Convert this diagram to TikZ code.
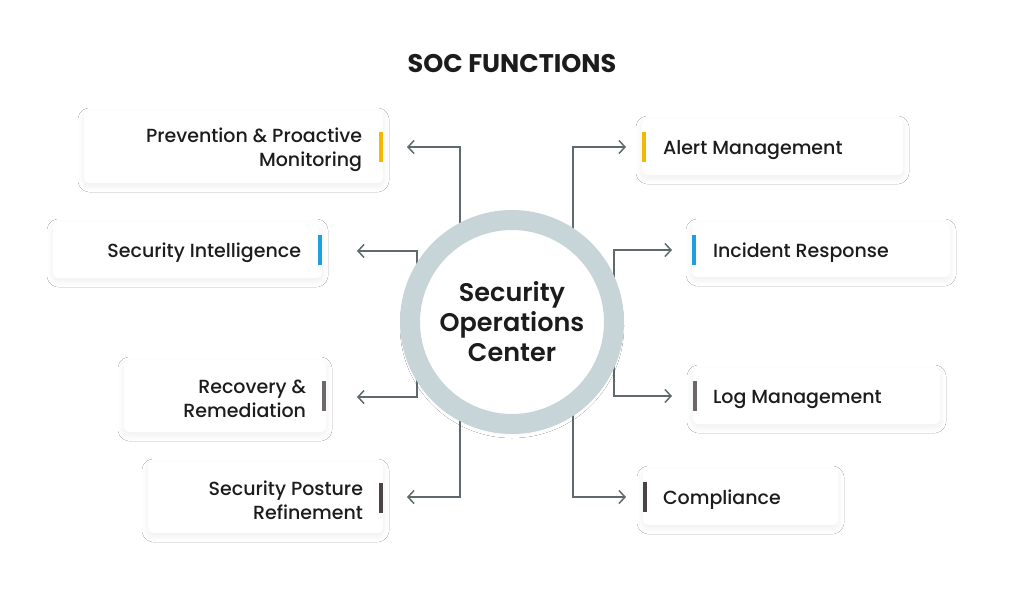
\documentclass[tikz,border=0pt]{standalone}
\usepackage{fontspec}
\setmainfont{Poppins}
\newfontfamily\medfont{Poppins Medium}
\newfontfamily\semifont{Poppins SemiBold}
\usetikzlibrary{arrows.meta,shadows.blur}
\definecolor{ringc}{HTML}{C8D5D8}
\definecolor{linec}{HTML}{5E6A6C}
\definecolor{inkc}{HTML}{1C1C1C}
\definecolor{yellowc}{HTML}{F5B800}
\definecolor{bluec}{HTML}{1E9FE0}
\definecolor{greyc}{HTML}{6E676A}
\definecolor{darkc}{HTML}{4A4346}
\tikzset{
  card/.style={fill=white, rounded corners=5pt, inner sep=0pt,
    blur shadow={shadow xshift=0pt, shadow yshift=-3pt, shadow blur radius=6pt, shadow blur steps=12, shadow opacity=7}},
  bar/.style={fill=#1, minimum width=4pt, minimum height=30pt, inner sep=0pt},
  lbl/.style={text=inkc, inner sep=0pt, yshift=-3pt, font=\medfont\fontsize{19}{24}\selectfont},
  conn/.style={draw=linec, line width=1.5pt, ->, >={Straight Barb[length=6pt, width=13pt]}}
}
\begin{document}
\begin{tikzpicture}[x=1pt, y=-1pt]
  \useasboundingbox (0,0) rectangle (1024,602);
  \fill[white] (0,0) rectangle (1024,602);
  \node[text=inkc, font=\fontsize{25.5}{28}\selectfont\bfseries] (title) at (512,64) {SOC FUNCTIONS};
  % arrow ends
  \coordinate (tprev) at (407,147);
  \coordinate (tintel) at (357,251);
  \coordinate (trecov) at (357,397);
  \coordinate (tpost) at (407,497);
  \coordinate (talert) at (626,147);
  \coordinate (tincid) at (672,250);
  \coordinate (tlog) at (672,396);
  \coordinate (tcomp) at (626,497);
  % centre
  \coordinate (mid) at (512,322);
  \draw[conn] (mid) ++(-52,0) |- (tprev);
  \draw[conn] (mid) ++(-95,0) |- (tintel);
  \draw[conn] (mid) ++(-95,0) |- (trecov);
  \draw[conn] (mid) ++(-52,0) |- (tpost);
  \draw[conn] (mid) ++(61,0) |- (talert);
  \draw[conn] (mid) ++(102,0) |- (tincid);
  \draw[conn] (mid) ++(102,0) |- (tlog);
  \draw[conn] (mid) ++(61,0) |- (tcomp);
  \node[circle, minimum size=204pt, draw=ringc, line width=20pt, fill=white, align=center,
    text=inkc, font=\semifont\fontsize{25.5}{30}\selectfont,
    blur shadow={shadow xshift=0pt, shadow yshift=-4pt, shadow blur radius=10pt, shadow blur steps=14, shadow opacity=8}]
    (soc) at (mid) {Security\\Operations\\Center};
  % left cards
  \node[card, minimum width=299pt, minimum height=72pt] (prev) at (233.5,147) {};
  \node[bar=yellowc, anchor=east] (prevbar) at (prev.east) {};
  \node[lbl, anchor=east, align=right] (prevtxt) at ([xshift=-21pt]prev.east) {Prevention \& Proactive\\Monitoring};
  \node[card, minimum width=269pt, minimum height=56pt] (intel) at (187.5,250) {};
  \node[bar=bluec, anchor=east] (intelbar) at (intel.east) {};
  \node[lbl, anchor=east, align=right] (inteltxt) at ([xshift=-21pt]intel.east) {Security Intelligence};
  \node[card, minimum width=202pt, minimum height=72pt] (recov) at (225,396) {};
  \node[bar=greyc, anchor=east] (recovbar) at (recov.east) {};
  \node[lbl, anchor=east, align=right] (recovtxt) at ([xshift=-20pt]recov.east) {Recovery \&\\Remediation};
  \node[card, minimum width=235pt, minimum height=71pt] (post) at (265.5,497.5) {};
  \node[bar=darkc, anchor=east] (postbar) at (post.east) {};
  \node[lbl, anchor=east, align=right] (posttxt) at ([xshift=-20pt]post.east) {Security Posture\\Refinement};
  % right cards
  \node[card, minimum width=261pt, minimum height=56pt] (alert) at (772.5,147) {};
  \node[bar=yellowc, anchor=west] (alertbar) at (alert.west) {};
  \node[lbl, anchor=west] (alerttxt) at ([xshift=21pt]alert.west) {Alert Management};
  \node[card, minimum width=258pt, minimum height=55pt] (incid) at (821,249.5) {};
  \node[bar=bluec, anchor=west] (incidbar) at (incid.west) {};
  \node[lbl, anchor=west] (incidtxt) at ([xshift=21pt]incid.west) {Incident Response};
  \node[card, minimum width=247pt, minimum height=56pt] (log) at (816.5,396) {};
  \node[bar=greyc, anchor=west] (logbar) at (log.west) {};
  \node[lbl, anchor=west] (logtxt) at ([xshift=20pt]log.west) {Log Management};
  \node[card, minimum width=195pt, minimum height=56pt] (comp) at (740.5,497) {};
  \node[bar=darkc, anchor=west] (compbar) at (comp.west) {};
  \node[lbl, anchor=west] (comptxt) at ([xshift=20pt]comp.west) {Compliance};
\end{tikzpicture}
\end{document}
